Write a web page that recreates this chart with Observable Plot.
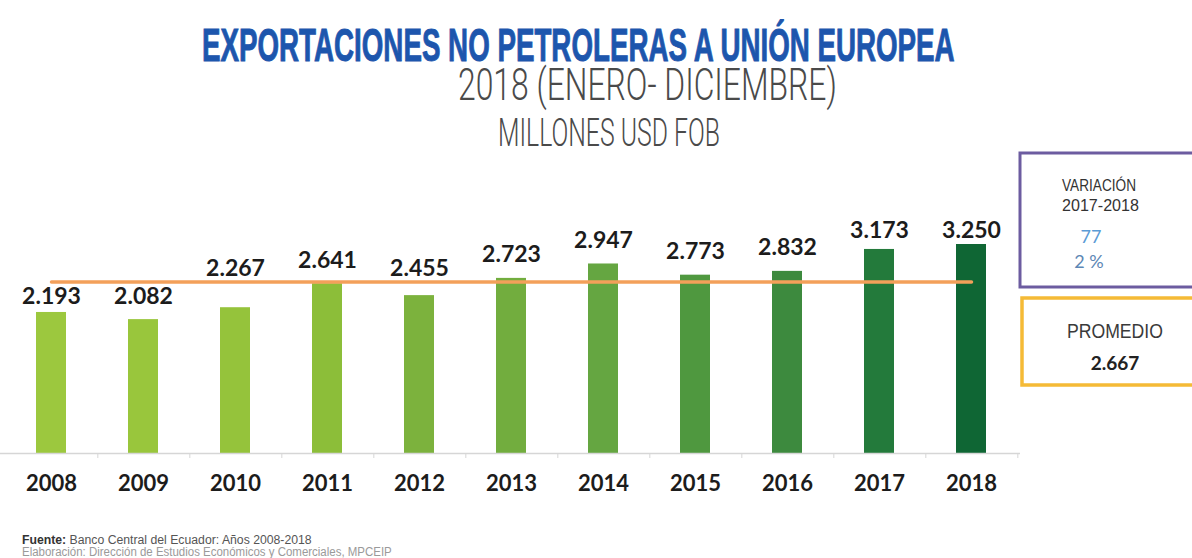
<!DOCTYPE html>
<html>
<head>
<meta charset="utf-8">
<script src="https://cdn.jsdelivr.net/npm/d3@7"></script>
<script src="https://cdn.jsdelivr.net/npm/@observablehq/plot@0.6"></script>
<style>
  html, body { margin: 0; padding: 0; background: #fff; }
  #page { position: relative; width: 1192px; height: 558px; overflow: hidden; background: #fff; }
  #chart { position: absolute; left: 0; top: 150px; }
  #overlay { position: absolute; left: 0; top: 0; }
</style>
</head>
<body>
<div id="page">
  <div id="chart"></div>
  <svg id="overlay" width="1192" height="558" xmlns="http://www.w3.org/2000/svg"></svg>
</div>
<script>
// ---------------- data ----------------
const years = ["2008", "2009", "2010", "2011", "2012", "2013", "2014", "2015", "2016", "2017", "2018"];
const values = [2193, 2082, 2267, 2641, 2455, 2723, 2947, 2773, 2832, 3173, 3250];
const barColors = ["#9cc83e", "#99c63c", "#95c33b", "#8cbe39", "#7cb23d", "#72ad3e", "#65a641", "#4f983f", "#3d8a3e", "#237a3b", "#0f6634"];

const titleText = "EXPORTACIONES NO PETROLERAS A UNIÓN EUROPEA";
const subtitleText = "2018 (ENERO- DICIEMBRE)";
const unitText = "MILLONES USD FOB";
const variationTitle = ["VARIACIÓN", "2017-2018"];
const averageTitle = "PROMEDIO";
const sourceBold = "Fuente:";
const sourceText = " Banco Central del Ecuador: Años 2008-2018";
const creditText = "Elaboración: Dirección de Estudios Económicos y Comerciales, MPCEIP";

// ---------------- derived ----------------
const es = d3.formatLocale({decimal: ",", thousands: ".", grouping: [3], currency: ["$", ""]});
const fmt = es.format(",");
const average = Math.round(d3.mean(values));
const varAbs = values[values.length - 1] - values[values.length - 2];
const varPct = Math.round(varAbs / values[values.length - 2] * 100);

const W = 1020, H = 360;
const yDomain = [0, d3.max(values)];
const yRange = [303, 94];
const yS = d3.scaleLinear(yDomain, yRange);
const xRange = [1, 1020];
const step = (xRange[1] - xRange[0]) / years.length;

const data = years.map((year, i) => ({year, value: values[i]}));
// label placement: above the bar, avoiding the average line
const avgPx = yS(average), gap = 16, capH = 17, half = 4;
data.forEach(d => {
  const top = yS(d.value);
  let base = top - gap;
  if (base > avgPx - half && base - capH < avgPx + half) {
    const below = avgPx + half + capH + 1;
    base = below <= top - 5 ? below : avgPx - half - 2;
  }
  base = Math.max(base, yRange[1] - 7);
  d.labelY = yS.invert(base);
});

const chart = Plot.plot({
  width: W, height: H,
  marginTop: 94, marginBottom: 57, marginLeft: 0, marginRight: 0,
  x: {domain: years, range: xRange, paddingInner: 0.676, paddingOuter: 0.338, axis: null},
  y: {domain: yDomain, range: yRange, axis: null},
  color: {domain: years, range: barColors},
  style: {background: "transparent", fontFamily: "Lato, sans-serif"},
  marks: [
    Plot.barY(data, {x: "year", y: "value", fill: "year"}),
    Plot.ruleY([0], {stroke: "#d6d6d6", strokeWidth: 1.5}),
    Plot.ruleX(years, {x: d => d, y1: 0, y2: yS.invert(yRange[0] + 5), dx: step / 2, stroke: "#d6d6d6", strokeWidth: 1}),
    Plot.lineY(years, {x: d => d, y: () => average, stroke: "#f3a05a", strokeWidth: 3.5}),
    Plot.text(data, {x: "year", y: "labelY", text: d => fmt(d.value), lineAnchor: "bottom",
      fontSize: 23, fontWeight: "bold", fill: "#1c1c1c"}),
    Plot.text(years, {x: d => d, frameAnchor: "bottom", dy: 37, lineAnchor: "bottom", text: d => d,
      fontSize: 22, fontWeight: "bold", fill: "#1c1c1c"})
  ]
});
document.getElementById("chart").append(chart);

// ---------------- overlay: titles, boxes, source ----------------
const ov = d3.select("#overlay");
// text fitted to a width by a horizontal scale transform
function txt(s, o) {
  const g = ov.append("g");
  const t = g.append("text").text(s)
    .attr("x", 0).attr("y", 0)
    .attr("font-family", o.family || "'Liberation Sans', Arial, sans-serif")
    .attr("font-size", o.size).attr("fill", o.fill || "#333")
    .attr("font-weight", o.weight || 400);
  if (o.stroke) t.attr("stroke", o.fill).attr("stroke-width", o.stroke);
  let sx = 1;
  if (o.len) sx = o.len / t.node().getComputedTextLength();
  if (o.anchor) t.attr("text-anchor", o.anchor);
  g.attr("transform", `translate(${o.x},${o.y}) scale(${sx},1)`);
  return t;
}
txt(titleText, {x: 202, y: 61, size: 47, len: 753, fill: "#1d56ad", weight: 700,
  family: "'Liberation Sans Narrow', 'Liberation Sans', Arial, sans-serif", stroke: 1});
txt(subtitleText, {x: 458, y: 100, size: 45, len: 379, fill: "#4a4a4a", weight: 300, family: "Roboto, sans-serif"});
txt(unitText, {x: 498, y: 146, size: 39, len: 222, fill: "#4a4a4a", weight: 300, family: "Roboto, sans-serif"});

ov.append("rect").attr("x", 1020).attr("y", 153).attr("width", 200).attr("height", 134)
  .attr("fill", "#fff").attr("stroke", "#6c5ca0").attr("stroke-width", 3);
ov.append("rect").attr("x", 1022).attr("y", 298).attr("width", 200).attr("height", 87)
  .attr("fill", "#fff").attr("stroke", "#f5ba36").attr("stroke-width", 3.5);

txt(variationTitle[0], {x: 1062, y: 191, size: 16, len: 74, fill: "#333"});
txt(variationTitle[1], {x: 1062, y: 211, size: 16, len: 77, fill: "#333"});
txt(String(varAbs), {x: 1091, y: 243, size: 18, anchor: "middle", fill: "#5b9bd5", family: "Lato, sans-serif"});
txt(varPct + " %", {x: 1089, y: 268, size: 18, anchor: "middle", fill: "#5d87b5", family: "Lato, sans-serif"});
txt(averageTitle, {x: 1067, y: 338, size: 20, len: 96, fill: "#3a3a3a"});
txt(fmt(average), {x: 1115, y: 370, size: 19, anchor: "middle", fill: "#222", weight: 700, family: "Lato, sans-serif"});

const sg = ov.append("g");
const src = sg.append("text").attr("x", 0).attr("y", 0)
  .attr("font-family", "'Liberation Sans', Arial, sans-serif").attr("font-size", 12);
src.append("tspan").attr("font-weight", 700).attr("fill", "#333").text(sourceBold);
src.append("tspan").attr("fill", "#555").text(sourceText);
sg.attr("transform", `translate(22,544) scale(${290 / src.node().getComputedTextLength()},1)`);
txt(creditText, {x: 22, y: 556, size: 12, len: 370, fill: "#9a9a9a"});
</script>
</body>
</html>
